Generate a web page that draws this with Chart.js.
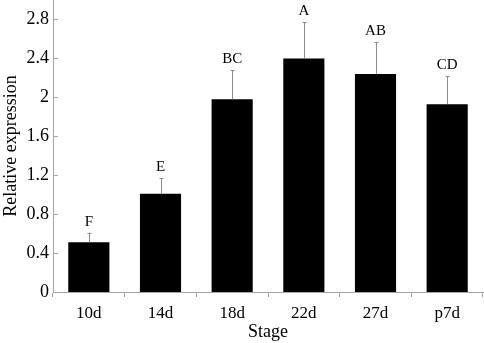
<!DOCTYPE html>
<html>
<head>
<meta charset="utf-8">
<script src="https://cdn.jsdelivr.net/npm/chart.js@4"></script>
<style>
  html, body { margin: 0; padding: 0; background: #fff; }
  #wrap { width: 484px; height: 343px; position: relative; }
</style>
</head>
<body>
<div id="wrap"><canvas id="c"></canvas></div>
<script>
// Relative expression per developmental stage, with upward SD bars and letter groups.
const stages = ['10d', '14d', '18d', '22d', '27d', 'p7d'];
const expression = [0.51, 1.01, 1.98, 2.40, 2.24, 1.93];
const errors = [0.10, 0.16, 0.30, 0.37, 0.33, 0.29];
const groups = ['F', 'E', 'BC', 'A', 'AB', 'CD'];
const yTicks = [0, 0.4, 0.8, 1.2, 1.6, 2, 2.4, 2.8];

const axisColor = '#a6a6a6';
const serif = '"Liberation Serif", "Times New Roman", serif';

// Upward error bars plus the significance letters sitting above them.
const errorBarPlugin = {
  id: 'err-bars',
  afterDatasetsDraw(chart) {
    const ctx = chart.ctx;
    const meta = chart.getDatasetMeta(0);
    const y = chart.scales.y;
    ctx.save();
    ctx.strokeStyle = '#8c8c8c';
    ctx.lineWidth = 1;
    ctx.font = '15px ' + serif;
    ctx.fillStyle = '#000';
    ctx.textAlign = 'center';
    ctx.textBaseline = 'alphabetic';
    meta.data.forEach((bar, i) => {
      const x = Math.round(bar.x) + 0.5;
      const top = y.getPixelForValue(expression[i]);
      const tip = y.getPixelForValue(expression[i] + errors[i]);
      ctx.beginPath();
      ctx.moveTo(x, top);
      ctx.lineTo(x, tip);
      ctx.moveTo(x - 2, Math.round(tip) + 0.5);
      ctx.lineTo(x + 2, Math.round(tip) + 0.5);
      ctx.stroke();
      ctx.fillText(groups[i], bar.x, tip - 7);
    });
    ctx.restore();
  },
};

// Excel-style inside tick marks on the value axis.
const insideTicksPlugin = {
  id: 'inside-ticks',
  afterDraw(chart) {
    const ctx = chart.ctx;
    const y = chart.scales.y;
    const left = chart.chartArea.left;
    ctx.save();
    ctx.strokeStyle = axisColor;
    ctx.lineWidth = 1;
    ctx.beginPath();
    for (const v of yTicks) {
      const py = Math.round(y.getPixelForValue(v)) + 0.5;
      ctx.moveTo(left, py);
      ctx.lineTo(left + 5, py);
    }
    ctx.stroke();
    ctx.restore();
  },
};

new Chart(document.getElementById('c'), {
  type: 'bar',
  data: {
    labels: stages,
    datasets: [{
      data: expression,
      backgroundColor: '#000',
      borderWidth: 0,
      categoryPercentage: 1,
      barPercentage: 0.574,
    }],
  },
  options: {
    responsive: true, maintainAspectRatio: false, animation: false,
    layout: { padding: { top: 0, right: 1, left: 0, bottom: 0 } },
    plugins: { legend: { display: false }, tooltip: { enabled: false } },
    scales: {
      x: {
        grid: { display: true, offset: true, drawOnChartArea: false, drawTicks: true,
                tickLength: 5, color: axisColor },
        border: { display: true, color: axisColor },
        ticks: { color: '#000', font: { family: serif, size: 17 }, padding: 6 },
        title: { display: true, text: 'Stage', color: '#000',
                 font: { family: serif, size: 18 }, padding: { top: 0, bottom: 0 } },
        afterFit(scale) { scale.height = 51; },
      },
      y: {
        min: 0, max: 3,
        afterBuildTicks(scale) { scale.ticks = yTicks.map(v => ({ value: v })); },
        grid: { display: false, drawTicks: false },
        border: { display: true, color: axisColor },
        ticks: { color: '#000', font: { family: serif, size: 18 }, padding: 4,
                 callback: v => String(v) },
        title: { display: true, text: 'Relative expression', color: '#000',
                 font: { family: serif, size: 18 }, padding: { top: 0, bottom: 0 } },
        // top tick is 2.8, not the axis max, so no room is needed for its label
        afterFit(scale) { scale.width = 53; scale.paddingTop = 0; },
      },
    },
  },
  plugins: [errorBarPlugin, insideTicksPlugin],
});
</script>
</body>
</html>
